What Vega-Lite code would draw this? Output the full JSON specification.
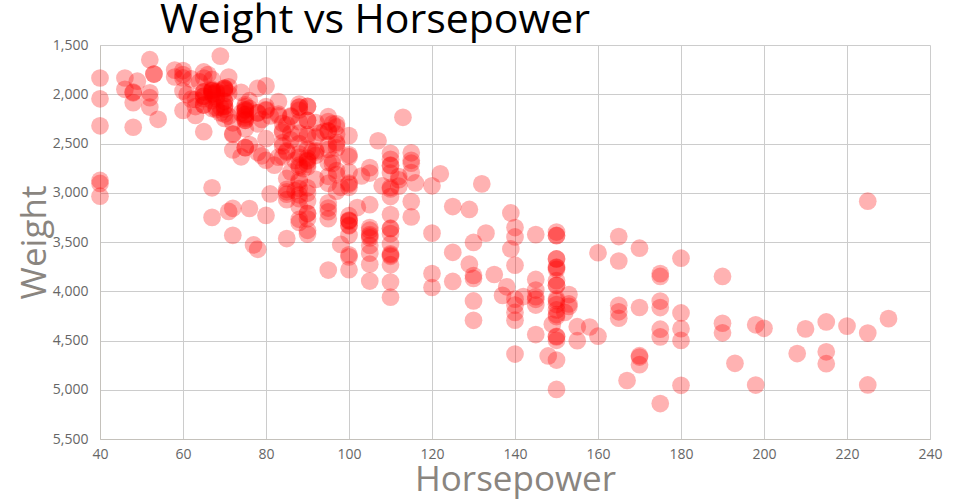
{
  "$schema": "https://vega.github.io/schema/vega-lite/v6.json",
  "autosize": "none",
  "width": 830,
  "height": 394,
  "padding": {"left": 100, "top": 45, "right": 30, "bottom": 61},
  "background": "white",
  "title": {"text": "Weight vs Horsepower", "anchor": "start", "frame": "group", "dx": 60, "dy": 6, "font": "Open Sans", "fontSize": 41, "fontWeight": "normal", "color": "black", "offset": 2},
  "config": {"view": {"stroke": null}, "font": "Open Sans"},
  "data": {"values": [
{"hp":130,"w":3504},{"hp":165,"w":3693},{"hp":150,"w":3436},{"hp":150,"w":3433},{"hp":140,"w":3449},{"hp":198,"w":4341},{"hp":220,"w":4354},{"hp":215,"w":4312},{"hp":225,"w":4425},{"hp":190,"w":3850},
{"hp":115,"w":3090},{"hp":165,"w":4142},{"hp":153,"w":4034},{"hp":175,"w":4166},{"hp":175,"w":3850},
{"hp":170,"w":3563},{"hp":160,"w":3609},{"hp":140,"w":3353},{"hp":150,"w":3761},{"hp":225,"w":3086},{"hp":95,"w":2372},{"hp":95,"w":2833},{"hp":97,"w":2774},{"hp":85,"w":2587},{"hp":88,"w":2130},{"hp":46,"w":1835},{"hp":87,"w":2672},{"hp":90,"w":2430},{"hp":95,"w":2375},{"hp":113,"w":2234},{"hp":90,"w":2648},{"hp":215,"w":4615},{"hp":200,"w":4376},{"hp":210,"w":4382},{"hp":193,"w":4732},
{"hp":48,"w":1978},{"hp":88,"w":2130},{"hp":90,"w":2264},{"hp":95,"w":2228},{"hp":40,"w":2046},{"hp":100,"w":2634},{"hp":105,"w":3439},{"hp":100,"w":3329},{"hp":88,"w":3302},{"hp":100,"w":3288},{"hp":165,"w":4209},{"hp":175,"w":4464},{"hp":153,"w":4154},{"hp":150,"w":4096},{"hp":180,"w":4955},{"hp":170,"w":4746},{"hp":175,"w":5140},{"hp":110,"w":2962},{"hp":72,"w":2408},{"hp":100,"w":3282},{"hp":88,"w":3139},{"hp":86,"w":2220},{"hp":90,"w":2123},{"hp":70,"w":2074},{"hp":76,"w":2065},{"hp":65,"w":1773},{"hp":69,"w":1613},{"hp":60,"w":1834},{"hp":70,"w":1955},{"hp":95,"w":2278},{"hp":80,"w":2126},{"hp":54,"w":2254},{"hp":90,"w":2408},{"hp":86,"w":2226},{"hp":165,"w":4274},{"hp":175,"w":4385},{"hp":150,"w":4135},{"hp":153,"w":4129},{"hp":150,"w":3672},{"hp":208,"w":4633},{"hp":155,"w":4502},{"hp":160,"w":4456},{"hp":190,"w":4422},{"hp":97,"w":2330},{"hp":150,"w":3892},{"hp":130,"w":4098},{"hp":140,"w":4294},{"hp":150,"w":4077},{"hp":112,"w":2933},{"hp":76,"w":2511},{"hp":87,"w":2979},{"hp":69,"w":2189},{"hp":86,"w":2395},{"hp":92,"w":2288},{"hp":97,"w":2506},{"hp":80,"w":2164},{"hp":88,"w":2100},{"hp":175,"w":4100},{"hp":150,"w":3672},{"hp":145,"w":3988},{"hp":137,"w":4042},{"hp":150,"w":3777},{"hp":198,"w":4952},{"hp":150,"w":4464},{"hp":158,"w":4363},{"hp":150,"w":4237},{"hp":215,"w":4735},{"hp":225,"w":4951},{"hp":175,"w":3821},{"hp":105,"w":3121},{"hp":100,"w":3278},{"hp":100,"w":2945},{"hp":88,"w":3021},{"hp":95,"w":2904},{"hp":46,"w":1950},{"hp":150,"w":4997},{"hp":167,"w":4906},{"hp":170,"w":4654},{"hp":180,"w":4499},{"hp":100,"w":2789},{"hp":88,"w":2279},{"hp":72,"w":2401},{"hp":94,"w":2379},{"hp":90,"w":2124},{"hp":85,"w":2310},{"hp":107,"w":2472},{"hp":90,"w":2265},{"hp":145,"w":4082},{"hp":230,"w":4278},{"hp":49,"w":1867},{"hp":75,"w":2158},{"hp":91,"w":2582},{"hp":112,"w":2868},{"hp":150,"w":3399},{"hp":110,"w":2660},{"hp":122,"w":2807},{"hp":180,"w":3664},{"hp":95,"w":3102},{"hp":40,"w":2875},{"hp":100,"w":2901},{"hp":100,"w":3336},{"hp":67,"w":1950},{"hp":80,"w":2451},{"hp":65,"w":1836},{"hp":75,"w":2542},{"hp":100,"w":3781},{"hp":110,"w":3632},{"hp":105,"w":3613},{"hp":140,"w":4141},{"hp":150,"w":4699},{"hp":150,"w":4457},{"hp":140,"w":4638},{"hp":150,"w":4257},{"hp":83,"w":2219},{"hp":67,"w":1963},{"hp":78,"w":2300},{"hp":52,"w":1649},{"hp":61,"w":2003},{"hp":75,"w":2125},{"hp":75,"w":2108},{"hp":75,"w":2246},{"hp":97,"w":2489},{"hp":93,"w":2391},{"hp":67,"w":2000},{"hp":95,"w":3264},{"hp":105,"w":3459},{"hp":72,"w":3432},{"hp":72,"w":3158},{"hp":170,"w":4668},{"hp":145,"w":4440},{"hp":150,"w":4498},{"hp":148,"w":4657},{"hp":110,"w":3907},{"hp":105,"w":3897},{"hp":110,"w":3730},{"hp":95,"w":3785},{"hp":110,"w":3039},{"hp":110,"w":3221},{"hp":129,"w":3169},{"hp":75,"w":2171},{"hp":83,"w":2639},{"hp":100,"w":2914},{"hp":78,"w":2592},{"hp":96,"w":2702},{"hp":71,"w":2223},{"hp":97,"w":2545},{"hp":97,"w":2984},{"hp":70,"w":1937},{"hp":90,"w":3211},{"hp":95,"w":2694},{"hp":88,"w":2957},{"hp":98,"w":2945},{"hp":115,"w":2671},{"hp":53,"w":1795},{"hp":86,"w":2464},{"hp":81,"w":2220},{"hp":92,"w":2572},{"hp":79,"w":2255},{"hp":83,"w":2202},{"hp":140,"w":4215},{"hp":150,"w":4190},{"hp":120,"w":3962},{"hp":152,"w":4215},{"hp":100,"w":3233},{"hp":105,"w":3353},{"hp":81,"w":3012},{"hp":90,"w":3085},{"hp":52,"w":2035},{"hp":60,"w":2164},{"hp":70,"w":1937},{"hp":53,"w":1795},{"hp":100,"w":3651},{"hp":78,"w":3574},{"hp":110,"w":3645},{"hp":95,"w":3193},{"hp":71,"w":1825},{"hp":70,"w":1990},{"hp":75,"w":2155},{"hp":72,"w":2565},{"hp":102,"w":3150},{"hp":150,"w":3940},{"hp":88,"w":3270},{"hp":108,"w":2930},{"hp":120,"w":3820},{"hp":180,"w":4380},{"hp":145,"w":4055},{"hp":130,"w":3870},{"hp":150,"w":3755},{"hp":68,"w":2045},{"hp":80,"w":2155},{"hp":58,"w":1825},{"hp":96,"w":2300},{"hp":70,"w":1945},{"hp":145,"w":3880},{"hp":110,"w":4060},{"hp":145,"w":4140},{"hp":130,"w":4295},{"hp":110,"w":3520},{"hp":105,"w":3425},{"hp":100,"w":3630},{"hp":98,"w":3525},{"hp":180,"w":4220},{"hp":170,"w":4165},{"hp":190,"w":4325},{"hp":149,"w":4335},{"hp":78,"w":1940},{"hp":88,"w":2740},{"hp":75,"w":2265},{"hp":89,"w":2755},{"hp":63,"w":2051},{"hp":83,"w":2075},{"hp":67,"w":1985},{"hp":78,"w":2190},{"hp":97,"w":2815},{"hp":110,"w":2600},{"hp":110,"w":2720},{"hp":48,"w":1985},{"hp":66,"w":1800},{"hp":52,"w":1985},{"hp":70,"w":2070},{"hp":60,"w":1800},{"hp":110,"w":3365},{"hp":140,"w":3735},{"hp":139,"w":3570},{"hp":105,"w":3535},{"hp":95,"w":3155},{"hp":85,"w":2965},{"hp":88,"w":2720},{"hp":100,"w":3430},{"hp":90,"w":3210},{"hp":105,"w":3380},{"hp":85,"w":3070},{"hp":110,"w":3620},{"hp":120,"w":3410},{"hp":145,"w":3425},{"hp":165,"w":3445},{"hp":139,"w":3205},{"hp":140,"w":4080},{"hp":68,"w":2155},{"hp":95,"w":2560},{"hp":97,"w":2300},{"hp":75,"w":2230},{"hp":95,"w":2515},{"hp":105,"w":2745},{"hp":85,"w":2855},{"hp":97,"w":2405},{"hp":103,"w":2830},{"hp":125,"w":3140},{"hp":115,"w":2795},{"hp":133,"w":3410},{"hp":71,"w":1990},{"hp":68,"w":2135},{"hp":115,"w":3245},{"hp":85,"w":2990},{"hp":88,"w":2890},{"hp":90,"w":3265},{"hp":110,"w":3360},{"hp":130,"w":3840},{"hp":129,"w":3725},{"hp":138,"w":3955},{"hp":135,"w":3830},{"hp":155,"w":4360},{"hp":142,"w":4054},{"hp":125,"w":3605},{"hp":150,"w":3940},{"hp":71,"w":1925},{"hp":65,"w":1975},{"hp":80,"w":1915},{"hp":80,"w":2670},{"hp":77,"w":3530},{"hp":125,"w":3900},{"hp":71,"w":3190},{"hp":90,"w":3420},{"hp":70,"w":2200},{"hp":70,"w":2150},{"hp":65,"w":2020},{"hp":69,"w":2130},{"hp":90,"w":2670},{"hp":115,"w":2595},{"hp":115,"w":2700},{"hp":90,"w":2556},{"hp":76,"w":2144},{"hp":60,"w":1968},{"hp":70,"w":2120},{"hp":65,"w":2019},{"hp":90,"w":2678},{"hp":88,"w":2870},{"hp":90,"w":3003},{"hp":90,"w":3381},{"hp":78,"w":2188},{"hp":90,"w":2711},{"hp":75,"w":2542},{"hp":92,"w":2434},{"hp":75,"w":2265},{"hp":65,"w":2110},{"hp":105,"w":2800},{"hp":65,"w":2110},{"hp":48,"w":2085},{"hp":48,"w":2335},{"hp":67,"w":2950},{"hp":67,"w":3250},{"hp":67,"w":1850},{"hp":40,"w":1835},{"hp":67,"w":2145},{"hp":62,"w":1845},{"hp":132,"w":2910},{"hp":100,"w":2420},{"hp":88,"w":2500},{"hp":40,"w":2905},{"hp":72,"w":2290},{"hp":84,"w":2490},{"hp":84,"w":2635},{"hp":92,"w":2620},{"hp":110,"w":2725},{"hp":84,"w":2385},{"hp":58,"w":1755},{"hp":64,"w":1875},{"hp":60,"w":1760},{"hp":67,"w":2065},{"hp":65,"w":1975},{"hp":62,"w":2050},{"hp":68,"w":1985},{"hp":63,"w":2215},{"hp":65,"w":2045},{"hp":65,"w":2380},{"hp":74,"w":2190},{"hp":40,"w":2320},{"hp":110,"w":2800},{"hp":75,"w":2210},{"hp":75,"w":2350},{"hp":100,"w":2615},{"hp":74,"w":2635},{"hp":80,"w":3230},{"hp":76,"w":3160},{"hp":116,"w":2900},{"hp":120,"w":2930},{"hp":110,"w":3415},{"hp":105,"w":3725},{"hp":88,"w":3060},{"hp":85,"w":3465},{"hp":88,"w":2605},{"hp":88,"w":2640},{"hp":88,"w":2395},{"hp":85,"w":2575},{"hp":84,"w":2525},{"hp":90,"w":2735},{"hp":92,"w":2865},{"hp":40,"w":3035},{"hp":74,"w":1980},{"hp":68,"w":2025},{"hp":68,"w":1970},{"hp":63,"w":2125},{"hp":70,"w":2125},{"hp":88,"w":2160},{"hp":75,"w":2205},{"hp":70,"w":2245},{"hp":67,"w":1965},{"hp":67,"w":1965},{"hp":67,"w":1995},{"hp":110,"w":2945},{"hp":85,"w":3015},{"hp":92,"w":2585},{"hp":112,"w":2835},{"hp":96,"w":2665},{"hp":84,"w":2370},{"hp":90,"w":2950},{"hp":86,"w":2790},{"hp":52,"w":2130},{"hp":84,"w":2295},{"hp":79,"w":2625},{"hp":82,"w":2720}
  ]},
  "mark": {"type": "circle", "size": 314, "color": "#ff0000", "opacity": 0.3},
  "encoding": {
    "x": {"field": "hp", "type": "quantitative", "title": "Horsepower",
      "scale": {"domain": [40, 240], "nice": false, "zero": false},
      "axis": {"values": [40, 60, 80, 100, 120, 140, 160, 180, 200, 220, 240], "ticks": false, "labelPadding": 8, "labelFont": "Open Sans", "labelFontSize": 14, "labelColor": "#666666", "labelFlush": false,
        "titleFont": "Open Sans", "titleFontSize": 35, "titleFontWeight": "normal", "titleColor": "#8a857f", "titlePadding": 1,
        "domainColor": "#c4c1bb", "gridColor": "#cccccc", "grid": true}},
    "y": {"field": "w", "type": "quantitative", "title": "Weight",
      "scale": {"domain": [1500, 5500], "reverse": true, "nice": false, "zero": false},
      "axis": {"values": [1500, 2000, 2500, 3000, 3500, 4000, 4500, 5000, 5500], "format": ",.0f", "ticks": false, "labelPadding": 12, "labelFont": "Open Sans", "labelFontSize": 14, "labelColor": "#666666", "labelFlush": false,
        "titleFont": "Open Sans", "titleFontSize": 35, "titleFontWeight": "normal", "titleColor": "#8a857f", "titlePadding": 0,
        "domainColor": "#c4c1bb", "gridColor": "#cccccc", "grid": true}}
  }
}
